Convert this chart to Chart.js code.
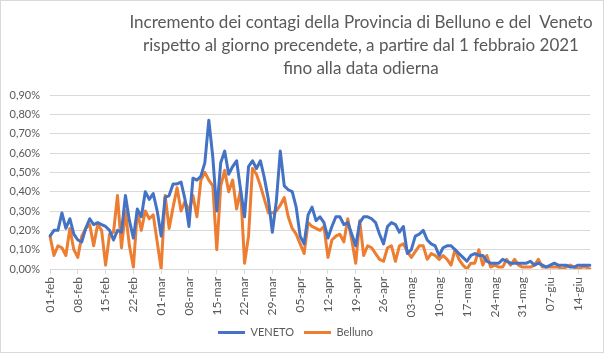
<!DOCTYPE html>
<html>
<head>
<meta charset="utf-8">
<script src="https://cdn.jsdelivr.net/npm/chart.js@4.4.1/dist/chart.umd.min.js"></script>
<style>
  body { margin: 0; background: #fff; }
  #wrap { position: relative; width: 602px; height: 351px; border: 1px solid #d9d9d9; background: #fff; }
  #titolo { position: absolute; left: 100px; width: 520px; top: 9px; text-align: center; white-space: nowrap;
            font-family: Lato, sans-serif; font-size: 17px; line-height: 23px; color: #595959; }
  canvas { position: absolute; left: 0; top: 0; }
</style>
</head>
<body>
<div id="wrap">
  <canvas id="grafico" width="602" height="351"></canvas>
  <div id="titolo">Incremento dei contagi della Provincia di Belluno e del&nbsp; Veneto<br>rispetto al giorno precendete, a partire dal 1 febbraio 2021<br>fino alla data odierna</div>
</div>
<script>
// giorni dal 1 febbraio 2021 (137 valori, fino al 17 giugno)
const mesi = ["gen", "feb", "mar", "apr", "mag", "giu"];
const inizio = new Date(2021, 1, 1);
const numGiorni = 137;

// incremento % rispetto al giorno precedente
const veneto = [
  0.17, 0.20, 0.20, 0.29, 0.21, 0.26, 0.18, 0.15, 0.14, 0.21,
  0.26, 0.23, 0.24, 0.23, 0.22, 0.20, 0.15, 0.20, 0.19, 0.38,
  0.25, 0.16, 0.31, 0.27, 0.40, 0.36, 0.39, 0.30, 0.17, 0.37,
  0.38, 0.44, 0.44, 0.45, 0.36, 0.22, 0.47, 0.46, 0.48, 0.55,
  0.77, 0.58, 0.30, 0.55, 0.61, 0.49, 0.53, 0.56, 0.41, 0.27,
  0.53, 0.56, 0.52, 0.56, 0.47, 0.36, 0.19, 0.35, 0.61, 0.43,
  0.41, 0.40, 0.32, 0.17, 0.13, 0.28, 0.32, 0.25, 0.27, 0.24,
  0.16, 0.22, 0.27, 0.27, 0.23, 0.24, 0.18, 0.12, 0.24, 0.27,
  0.27, 0.26, 0.24, 0.18, 0.13, 0.22, 0.24, 0.23, 0.19, 0.22,
  0.08, 0.10, 0.17, 0.18, 0.20, 0.15, 0.13, 0.12, 0.07, 0.11,
  0.12, 0.12, 0.10, 0.08, 0.06, 0.04, 0.07, 0.08, 0.07, 0.07,
  0.04, 0.03, 0.03, 0.03, 0.05, 0.04, 0.03, 0.03, 0.03, 0.03,
  0.03, 0.04, 0.02, 0.03, 0.02, 0.01, 0.02, 0.03, 0.02, 0.02,
  0.02, 0.01, 0.01, 0.02, 0.02, 0.02, 0.02
];
const belluno = [
  0.17, 0.07, 0.12, 0.11, 0.07, 0.21, 0.10, 0.06, 0.17, 0.21,
  0.23, 0.12, 0.23, 0.20, 0.02, 0.18, 0.19, 0.38, 0.11, 0.30,
  0.12, 0.01, 0.30, 0.20, 0.30, 0.26, 0.28, 0.14, 0.00, 0.38,
  0.21, 0.32, 0.42, 0.30, 0.35, 0.30, 0.38, 0.27, 0.46, 0.50,
  0.46, 0.43, 0.10, 0.43, 0.51, 0.40, 0.46, 0.31, 0.41, 0.03,
  0.17, 0.52, 0.49, 0.43, 0.36, 0.29, 0.29, 0.30, 0.33, 0.37,
  0.27, 0.21, 0.18, 0.13, 0.08, 0.24, 0.22, 0.21, 0.20, 0.22,
  0.06, 0.15, 0.17, 0.18, 0.14, 0.26, 0.15, 0.03, 0.25, 0.07,
  0.12, 0.11, 0.08, 0.05, 0.04, 0.11, 0.12, 0.04, 0.12, 0.13,
  0.09, 0.06, 0.09, 0.12, 0.12, 0.05, 0.08, 0.07, 0.05, 0.07,
  0.05, 0.02, 0.10, 0.05, 0.02, 0.00, 0.03, 0.03, 0.10, 0.02,
  0.07, 0.01, 0.02, 0.01, 0.01, 0.05, 0.02, 0.05, 0.02, 0.01,
  0.01, 0.01, 0.02, 0.05, 0.01, 0.01, 0.01, 0.01, 0.01, 0.00,
  0.01, 0.02, 0.01, 0.00, 0.01, 0.01, 0.00
];

// etichette tipo "01-feb"
const giorni = [];
for (let i = 0; i < numGiorni; i++) {
  const d = new Date(inizio.getTime());
  d.setDate(d.getDate() + i);
  giorni.push(String(d.getDate()).padStart(2, "0") + "-" + mesi[d.getMonth()]);
}

const grigio = "#595959";
const griglia = "#d9d9d9";

const ctx = document.getElementById("grafico").getContext("2d");
new Chart(ctx, {
  type: "line",
  data: {
    labels: giorni,
    datasets: [
      {
        label: "VENETO",
        data: veneto,
        borderColor: "#4472C4",
        backgroundColor: "#4472C4",
        borderWidth: 3,
        pointRadius: 0,
        tension: 0,
        borderJoinStyle: "round",
        borderCapStyle: "round",
      },
      {
        label: "Belluno",
        data: belluno,
        borderColor: "#ED7D31",
        backgroundColor: "#ED7D31",
        borderWidth: 3,
        pointRadius: 0,
        tension: 0,
        borderJoinStyle: "round",
        borderCapStyle: "round",
      },
    ],
  },
  options: {
    responsive: false,
    animation: false,
    layout: { padding: { top: 94, right: 13, bottom: 4, left: 0 } },
    plugins: {
      title: { display: false },
      tooltip: { enabled: false },
      legend: {
        position: "bottom",
        labels: {
          boxWidth: 27,
          boxHeight: 3,
          padding: 10,
          color: grigio,
          font: { family: "Lato", size: 11 },
          generateLabels: (chart) =>
            Chart.defaults.plugins.legend.labels
              .generateLabels(chart)
              .map((l) => ({ ...l, lineWidth: 0 })),
        },
      },
    },
    scales: {
      x: {
        offset: false,
        grid: { drawOnChartArea: false, drawTicks: true, tickLength: 5, color: griglia },
        border: { color: griglia },
        ticks: {
          autoSkip: false,
          maxRotation: 90,
          minRotation: 90,
          padding: 3,
          color: grigio,
          font: { family: "Lato", size: 12 },
          callback: (v, i) => (i % 7 === 0 ? giorni[i] : null),
        },
        afterFit: (s) => { s.height = 48; },
      },
      y: {
        min: 0,
        max: 0.9,
        ticks: {
          stepSize: 0.1,
          padding: 10,
          color: grigio,
          font: { family: "Lato", size: 11 },
          callback: (v) => v.toFixed(2).replace(".", ",") + "%",
        },
        grid: { color: griglia, drawTicks: false },
        border: { display: false },
        afterFit: (s) => { s.width = 49; },
      },
    },
  },
});
</script>
</body>
</html>
